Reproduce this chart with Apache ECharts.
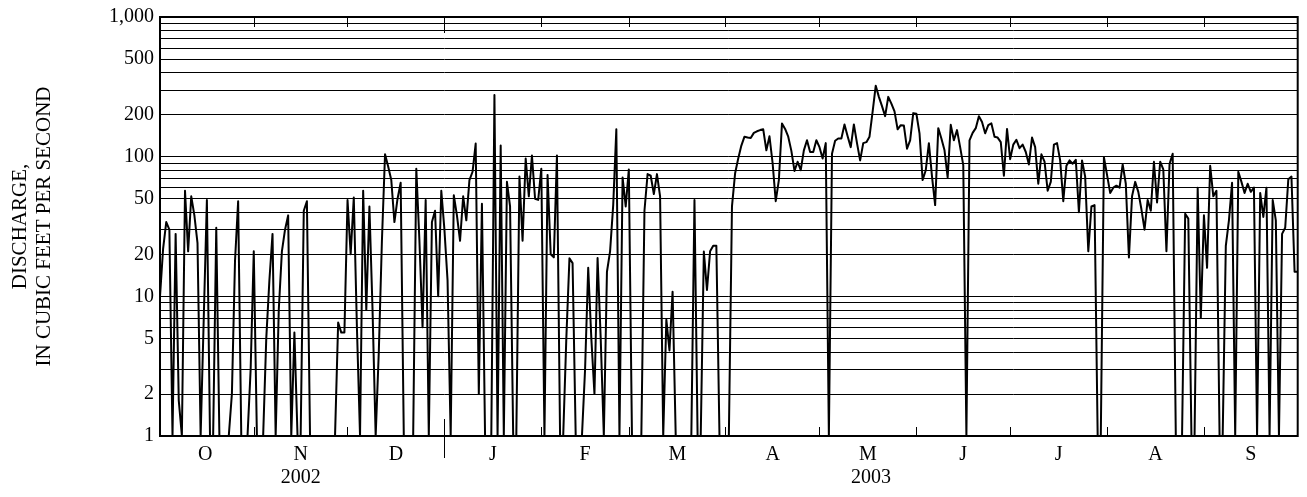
<!DOCTYPE html>
<html><head><meta charset="utf-8">
<script src="https://cdn.jsdelivr.net/npm/echarts@6/dist/echarts.min.js"></script>
<style>html,body{margin:0;padding:0;background:#fff}#c{width:1307px;height:497px}</style>
</head><body><div id="c"></div>
<script>
// Daily mean discharge, water year Oct 2002 - Sep 2003 (cfs); zero-flow days drawn at the 1 cfs floor
const oct = [10,22,34,30,1,28,1.8,1,57,21,52,38,24,1,7,49,1,1,31,1,1,1,1,2,18,48,1,1,1,3,21];
const nov = [1,1,1,5,13,28,1,8,21,30,38,1,5.5,1,1,41,48,1,1,1,1,1,1,1,1,1,6.5,5.5,5.5,49];
const dec = [20,51,6,1,57,8,44,8,1,4,25,104,85,68,34,50,65,1,1,1,1,82,25,6,49,1,34,41,10,57,30];
const jan = [13,1,53,38,25,52,35,68,78,124,2,46,1,1,1,276,1,120,1,66,44,1,1,72,25,97,52,102,50,49,82];
const feb = [1,74,20,19,102,1,1,5,18.7,17.3,1,1,1,3,16,5,2,18.8,5,1,15,21,45,157,1,71,44,81];
const mar = [1,1,1,1,41,75,73,54,75,52,1,6.8,4.1,10.8,1,1,1,1,1,1,49,1,1,20.9,11.1,21,23,23,1,1,1];
const apr = [1,44,76,97,120,139,137,136,148,152,155,157,111,140,90,48,68,173,158,139,110,79,92,80,111,131,108,108,131,117];
const may = [97,125,1,105,130,135,135,170,140,117,170,125,94,125,127,139,210,322,268,230,195,268,240,211,157,168,167,114,131,205,203];
const jun = [147,68,80,125,72,45,160,135,111,71,169,131,155,117,87,1,131,148,160,195,177,147,168,173,139,137,127,73,158,96];
const jul = [122,132,115,122,108,88,137,117,64,104,92,57,66,122,125,94,48,86,94,89,95,40,94,72,21,44,45,1,1,99,74];
const aug = [55,60,62,60,88,64,19,52,66,56,42,30,49,41,92,47,92,81,21,89,105,1,1,1,39,36,1,1,60,7,38];
const sep = [16,86,52,57,1,1,23,35,65,1,78,66,55,64,56,60,1,55,37,60,1,49,35,1,28,31,69,72,15,15];

const monthLetters = ['O','N','D','J','F','M','A','M','J','J','A','S'];
const yearLabels = ['2002','2003'];
const yTickLabels = [1,2,5,10,20,50,100,200,500,1000];
const yGridValues = [1,2,3,4,5,6,7,8,9,10,20,30,40,50,60,70,80,90,100,200,300,400,500,600,700,800,900,1000];

const months = [oct,nov,dec,jan,feb,mar,apr,may,jun,jul,aug,sep];
const daily = [].concat(...months);
const lastDay = daily.length - 1;

// month boundaries (between days) and centres
const bounds = [-1];
months.forEach(m => bounds.push(bounds[bounds.length - 1] + m.length));
bounds[bounds.length - 1] = lastDay;
const monthBounds = bounds.slice(1, -1);
const monthMids = monthLetters.map((_, i) => (bounds[i] + bounds[i + 1]) / 2);
const yearBound = bounds[3];
const yearMids = [(bounds[0] + yearBound) / 2, (yearBound + lastDay) / 2];

const lg = v => Math.log10(v);
const font = 'Liberation Serif';
const near = (arr, v) => arr.findIndex(a => Math.abs(a - v) < 1e-6);

const baseX = {
  type: 'value', min: 0, max: lastDay,
  axisLine: { show: false }, splitLine: { show: false }
};

const option = {
  animation: false,
  backgroundColor: '#fff',
  grid: { left: 158.7, right: 9.3, top: 17, bottom: 61, show: true, borderColor: '#000', borderWidth: 2, backgroundColor: 'transparent' },
  xAxis: [
    Object.assign({}, baseX, {
      position: 'bottom',
      axisTick: { show: true, inside: true, length: 9, customValues: monthBounds, lineStyle: { color: '#000', width: 1 } },
      axisLabel: { show: true, customValues: monthMids, margin: 9, color: '#000', fontFamily: font, fontSize: 20,
        formatter: v => monthLetters[near(monthMids, v)] || '' }
    }),
    Object.assign({}, baseX, {
      position: 'bottom',
      axisTick: { show: true, inside: false, length: 22, customValues: [yearBound], lineStyle: { color: '#000', width: 1 } },
      axisLabel: { show: true, customValues: yearMids, margin: 32, color: '#000', fontFamily: font, fontSize: 20,
        formatter: v => yearLabels[near(yearMids, v)] || '' }
    }),
    Object.assign({}, baseX, {
      position: 'bottom',
      axisTick: { show: true, inside: true, length: 17, customValues: [yearBound], lineStyle: { color: '#000', width: 1 } },
      axisLabel: { show: false }
    }),
    Object.assign({}, baseX, {
      position: 'top',
      axisTick: { show: true, inside: true, length: 10, customValues: monthBounds, lineStyle: { color: '#000', width: 1 } },
      axisLabel: { show: false }
    }),
    Object.assign({}, baseX, {
      position: 'top',
      axisTick: { show: true, inside: true, length: 16, customValues: [yearBound], lineStyle: { color: '#000', width: 1 } },
      axisLabel: { show: false }
    })
  ],
  yAxis: {
    type: 'value', min: 0, max: 3,
    name: 'DISCHARGE,\nIN CUBIC FEET PER SECOND',
    nameLocation: 'middle', nameRotate: 90, nameGap: 104,
    nameTextStyle: { color: '#000', fontFamily: font, fontSize: 21, lineHeight: 24, align: 'center' },
    axisLine: { show: false },
    axisTick: { show: false, customValues: yGridValues.map(lg) },
    splitLine: { show: true, lineStyle: { color: '#000', width: 1 } },
    axisLabel: { show: true, customValues: yTickLabels.map(lg), margin: 6, color: '#000', fontFamily: font, fontSize: 20,
      formatter: v => {
        const i = near(yTickLabels.map(lg), v);
        return i < 0 ? '' : yTickLabels[i].toLocaleString('en-US');
      } }
  },
  series: [{
    type: 'line', xAxisIndex: 0,
    data: daily.map((v, i) => [i, lg(v)]),
    showSymbol: false, symbol: 'none', smooth: false,
    lineStyle: { color: '#000', width: 2, join: 'round' },
    clip: true, z: 5
  }]
};
const chart = echarts.init(document.getElementById('c'), null, { renderer: 'canvas' });
chart.setOption(option);
</script></body></html>
